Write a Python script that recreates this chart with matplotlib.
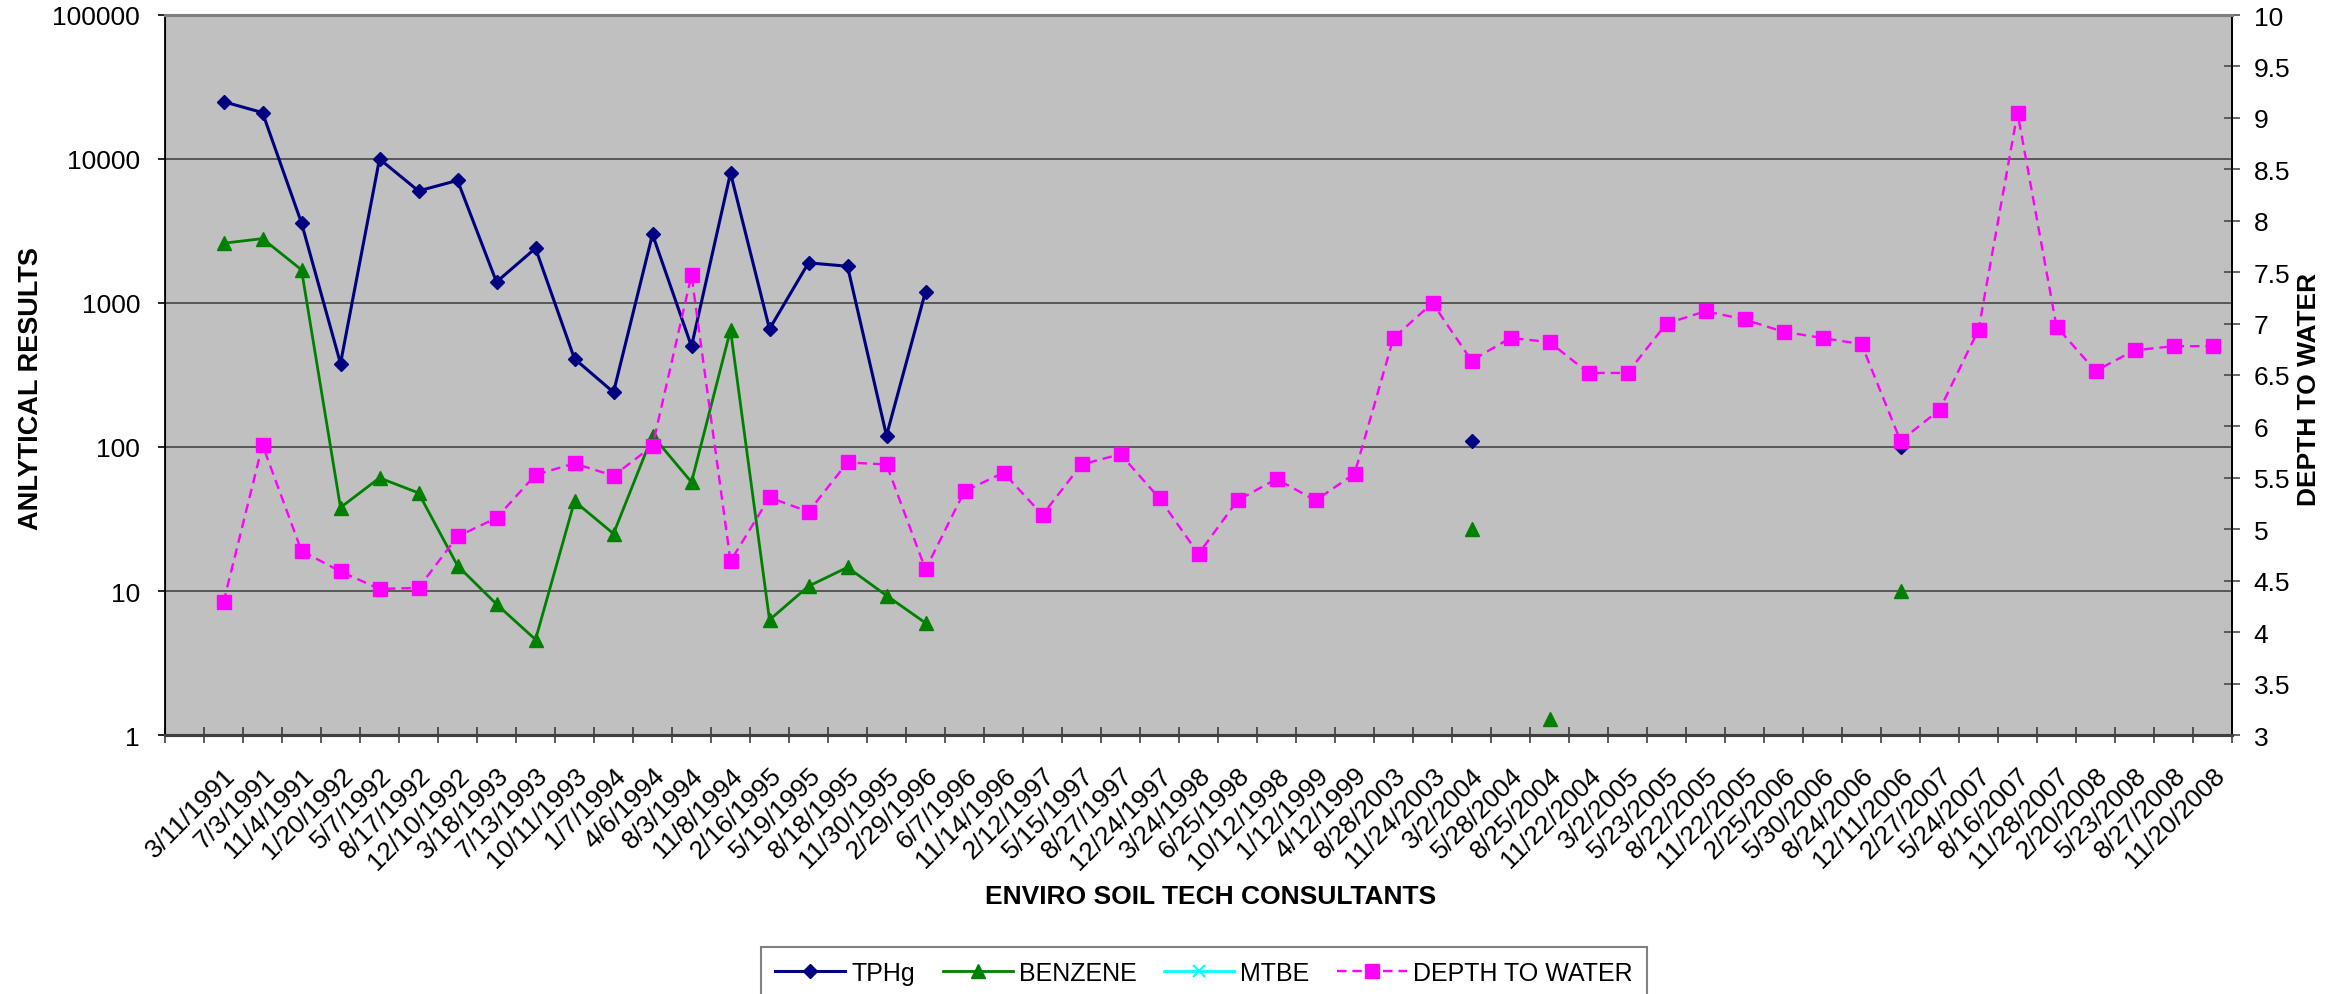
import numpy as np
import matplotlib
matplotlib.use("Agg")
import matplotlib.pyplot as plt

plt.rcParams['font.family'] = ['Liberation Sans', 'DejaVu Sans']

# ---------------- data ----------------
dates = ['', '3/11/1991', '7/3/1991', '11/4/1991', '1/20/1992', '5/7/1992', '8/17/1992',
         '12/10/1992', '3/18/1993', '7/13/1993', '10/11/1993', '1/7/1994', '4/6/1994',
         '8/3/1994', '11/8/1994', '2/16/1995', '5/19/1995', '8/18/1995', '11/30/1995',
         '2/29/1996', '6/7/1996', '11/14/1996', '2/12/1997', '5/15/1997', '8/27/1997',
         '12/24/1997', '3/24/1998', '6/25/1998', '10/12/1998', '1/12/1999', '4/12/1999',
         '8/28/2003', '11/24/2003', '3/2/2004', '5/28/2004', '8/25/2004', '11/22/2004',
         '3/2/2005', '5/23/2005', '8/22/2005', '11/22/2005', '2/25/2006', '5/30/2006',
         '8/24/2006', '12/11/2006', '2/27/2007', '5/24/2007', '8/16/2007', '11/28/2007',
         '2/20/2008', '5/23/2008', '8/27/2008', '11/20/2008']

N = None
tphg = [N, 25000, 21000, 3600, 380, 10000, 6000, 7100, 1400, 2400, 410, 240, 3000,
        500, 8000, 660, 1900, 1800, 120, 1200, N, N, N, N, N,
        N, N, N, N, N, N, N, N, 110, N, N, N,
        N, N, N, N, N, N, N, 100, N, N, N, N,
        N, N, N, N]

benzene = [N, 2600, 2800, 1700, 38, 61, 48, 15, 8.1, 4.6, 42, 25, 120,
           57, 650, 6.3, 10.8, 14.6, 9.3, 6.0, N, N, N, N, N,
           N, N, N, N, N, N, N, N, 27, N, 1.3, N,
           N, N, N, N, N, N, N, 10, N, N, N, N,
           N, N, N, N]

mtbe = [N] * len(dates)

depth = [N, 4.29, 5.82, 4.79, 4.59, 4.42, 4.43, 4.93, 5.11, 5.53, 5.64, 5.52, 5.81,
         7.47, 4.69, 5.31, 5.17, 5.65, 5.63, 4.61, 5.37, 5.55, 5.14, 5.63, 5.73,
         5.30, 4.76, 5.28, 5.49, 5.28, 5.54, 6.86, 7.20, 6.64, 6.86, 6.82, 6.52,
         6.52, 7.00, 7.12, 7.04, 6.92, 6.86, 6.80, 5.86, 6.16, 6.94, 9.05, 6.97,
         6.54, 6.74, 6.78, 6.78]

left_ticks = [1, 10, 100, 1000, 10000, 100000]
right_ticks = [3, 3.5, 4, 4.5, 5, 5.5, 6, 6.5, 7, 7.5, 8, 8.5, 9, 9.5, 10]

def arr(v):
    return np.array([np.nan if a is None else a for a in v], dtype=float)

x = np.arange(len(dates))

# ---------------- figure ----------------
W, H = 2352, 995
fig = plt.figure(figsize=(W / 100, H / 100), dpi=100)
L, R, T, B = 165, 2232, 16, 736
ax = fig.add_axes([L / W, 1 - B / H, (R - L) / W, (B - T) / H])
ax.set_facecolor('#C0C0C0')

l1, = ax.plot(x, arr(tphg), color='#000080', lw=2.2, marker='D', ms=7.5,
              label='TPHg', zorder=4)
l2, = ax.plot(x, arr(benzene), color='#008000', lw=2.0, marker='^', ms=10.5,
              label='BENZENE', zorder=3)
l3, = ax.plot(x, arr(mtbe), color='#00FFFF', lw=2.0, marker='x', ms=9, mew=1.5,
              label='MTBE', zorder=3)

ax.set_yscale('log')
ax.set_ylim(1, 100000)
ax.set_yticks(left_ticks)
ax.set_yticklabels([str(t) for t in left_ticks])
ax.yaxis.set_minor_locator(matplotlib.ticker.NullLocator())
ax.yaxis.grid(True, which='major', color='#3c3c3c', lw=1.1)
ax.set_axisbelow(True)
ax.tick_params(axis='y', which='major', direction='out', length=5, width=1.2,
               pad=13, labelsize=19)

ax.set_xlim(-0.5, len(dates) - 0.5)
ax.set_xticks(np.arange(-0.5, len(dates), 1.0))
ax.set_xticklabels([])
ax.tick_params(axis='x', which='major', direction='inout', length=11, width=1.1,
               color='#303030')
ax.set_xticks(x, dates, minor=True)
ax.tick_params(axis='x', which='minor', length=0, pad=20, labelsize=19)
for lbl in ax.get_xticklabels(minor=True):
    lbl.set_rotation(45)
    lbl.set_rotation_mode('anchor')
    lbl.set_ha('right')
    lbl.set_va('top')

for s in ['left', 'right']:
    ax.spines[s].set_color('black')
    ax.spines[s].set_linewidth(1.3)
ax.spines['top'].set_color('#808080')
ax.spines['top'].set_linewidth(2.2)
ax.spines['bottom'].set_color('#404040')
ax.spines['bottom'].set_linewidth(2.2)

ax2 = ax.twinx()
l4, = ax2.plot(x, arr(depth), color='#FF00FF', lw=1.7, ls=(0, (4, 2.5)),
               marker='s', ms=10.5, mec='#FF00FF', mfc='#FF00FF', label='DEPTH TO WATER')
ax2.set_ylim(3, 10)
ax2.set_yticks(right_ticks)
ax2.set_yticklabels(['{:g}'.format(t) for t in right_ticks])
ax2.tick_params(axis='y', direction='inout', length=11, width=1.1, color='#404040',
                pad=10, labelsize=19)
ax2.spines['right'].set_color('black')
ax2.spines['right'].set_linewidth(1.3)
ax2.spines['top'].set_color('#808080')
ax2.spines['top'].set_linewidth(2.2)
ax2.spines['bottom'].set_color('#404040')
ax2.spines['bottom'].set_linewidth(2.2)

# ---------------- labels ----------------
fig.text(31 / W, 1 - 389 / H, 'ANLYTICAL RESULTS', rotation=90, ha='center',
         va='center', fontsize=19.5, fontweight='bold')
fig.text(2309 / W, 1 - 389 / H, 'DEPTH TO WATER', rotation=90, ha='center',
         va='center', fontsize=19, fontweight='bold')
fig.text(1211 / W, 1 - 897 / H, 'ENVIRO SOIL TECH CONSULTANTS', ha='center',
         va='center', fontsize=19, fontweight='bold')

leg = fig.legend([l1, l2, l3, l4], ['TPHg', 'BENZENE', 'MTBE', 'DEPTH TO WATER'],
                 ncol=4, loc='upper center', bbox_to_anchor=(1204 / W, 1 - 948 / H),
                 borderaxespad=0, frameon=True, fancybox=False, fontsize=18,
                 handlelength=2.8, handletextpad=0.25, columnspacing=1.1,
                 borderpad=0.55, numpoints=1)
leg.get_frame().set_edgecolor('#606060')
leg.get_frame().set_linewidth(1.5)

fig.savefig('out.png', dpi=100)
